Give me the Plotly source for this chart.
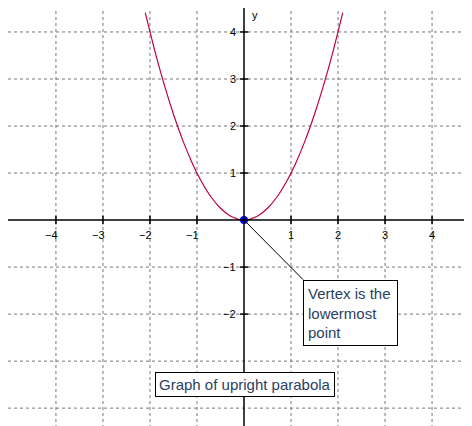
import plotly.graph_objects as go

curve_x = [-2.1, -1.9, -1.7, -1.5, -1.3, -1.1, -0.9, -0.7, -0.5, -0.3, -0.1, 0.0,
           0.1, 0.3, 0.5, 0.7, 0.9, 1.1, 1.3, 1.5, 1.7, 1.9, 2.1]
curve_y = [4.41, 3.61, 2.89, 2.25, 1.69, 1.21, 0.81, 0.49, 0.25, 0.09, 0.01, 0.0,
           0.01, 0.09, 0.25, 0.49, 0.81, 1.21, 1.69, 2.25, 2.89, 3.61, 4.41]
x_ticks = [-4, -3, -2, -1, 1, 2, 3, 4, 5]
y_ticks = [-2, -1, 1, 2, 3, 4]
grid_x = [-4, -3, -2, -1, 1, 2, 3, 4, 5]
grid_y = [-4, -3, -2, -1, 1, 2, 3, 4]

XR = [-5.02, 5.02]
YR = [-4.55, 4.51]
T = 0.09
font = dict(family="Liberation Sans, Arial", size=11, color="black")

fig = go.Figure()

# tick marks drawn as small crosses on the axes
tx, ty = [], []
for v in x_ticks:
    tx += [v, v, None]
    ty += [-T, T, None]
for v in y_ticks:
    tx += [-T, T, None]
    ty += [v, v, None]
fig.add_trace(go.Scatter(x=tx, y=ty, mode="lines", line=dict(color="black", width=1.5),
                         hoverinfo="skip"))

fig.add_trace(go.Scatter(x=curve_x, y=curve_y, mode="lines", line=dict(color="#c0004a", width=1.2,
                         shape="spline")))
fig.add_trace(go.Scatter(x=[0], y=[0], mode="markers", marker=dict(color="#0000ff", size=8)))

shapes = []
for v in grid_x:
    shapes.append(dict(type="line", x0=v, x1=v, y0=YR[0], y1=YR[1],
                       line=dict(color="#777", width=1, dash="3px,3px"), layer="below"))
for v in grid_y:
    shapes.append(dict(type="line", y0=v, y1=v, x0=XR[0], x1=XR[1],
                       line=dict(color="#777", width=1, dash="3px,3px"), layer="below"))
shapes.append(dict(type="line", x0=XR[0], x1=XR[1], y0=0, y1=0, line=dict(color="black", width=1.5)))
shapes.append(dict(type="line", x0=0, x1=0, y0=YR[0], y1=YR[1], line=dict(color="black", width=1.5)))
shapes.append(dict(type="line", x0=0, x1=1.26, y0=0, y1=-1.27, line=dict(color="black", width=1)))

ann = []
for v in x_ticks:
    lab = str(v).replace("-", "\u2212")
    anchor = "right" if v < 0 or v == x_ticks[-1] else "center"
    ann.append(dict(x=v, y=-0.15, text=lab, showarrow=False, xanchor=anchor,
                    yanchor="top", font=font, xshift=4 if v < 0 else 0))
for v in y_ticks:
    lab = str(v).replace("-", "\u2212")
    ann.append(dict(x=-0.12, y=v, text=lab, showarrow=False, xanchor="right", yanchor="middle", font=font))
ann.append(dict(x=0.12, y=4.2, text="y", showarrow=False, xanchor="left", yanchor="bottom", font=font))
ann.append(dict(x=4.9, y=0.15, text="x", showarrow=False, xanchor="right", yanchor="bottom", font=font))
ann.append(dict(x=1.26, y=-1.27, text="Vertex is the<br>lowermost<br>point", showarrow=False,
                xanchor="left", yanchor="top", align="left", bordercolor="black", borderwidth=1,
                bgcolor="white", borderpad=4, width=85, font=dict(family="Arial, Liberation Sans", size=15)))
ann.append(dict(x=-1.9, y=-3.5, text="Graph of upright parabola", showarrow=False,
                xanchor="left", yanchor="middle", bordercolor="black", borderwidth=1,
                bgcolor="white", borderpad=3, font=dict(family="Arial, Liberation Sans", size=15)))

fig.update_layout(width=472, height=426, margin=dict(l=0, r=0, t=0, b=0, pad=0, autoexpand=False),
                  plot_bgcolor="white", paper_bgcolor="white", showlegend=False,
                  shapes=shapes, annotations=ann,
                  xaxis=dict(range=XR, visible=False, fixedrange=True),
                  yaxis=dict(range=YR, visible=False, fixedrange=True))
fig.write_html("out.html", config=dict(displayModeBar=False))
